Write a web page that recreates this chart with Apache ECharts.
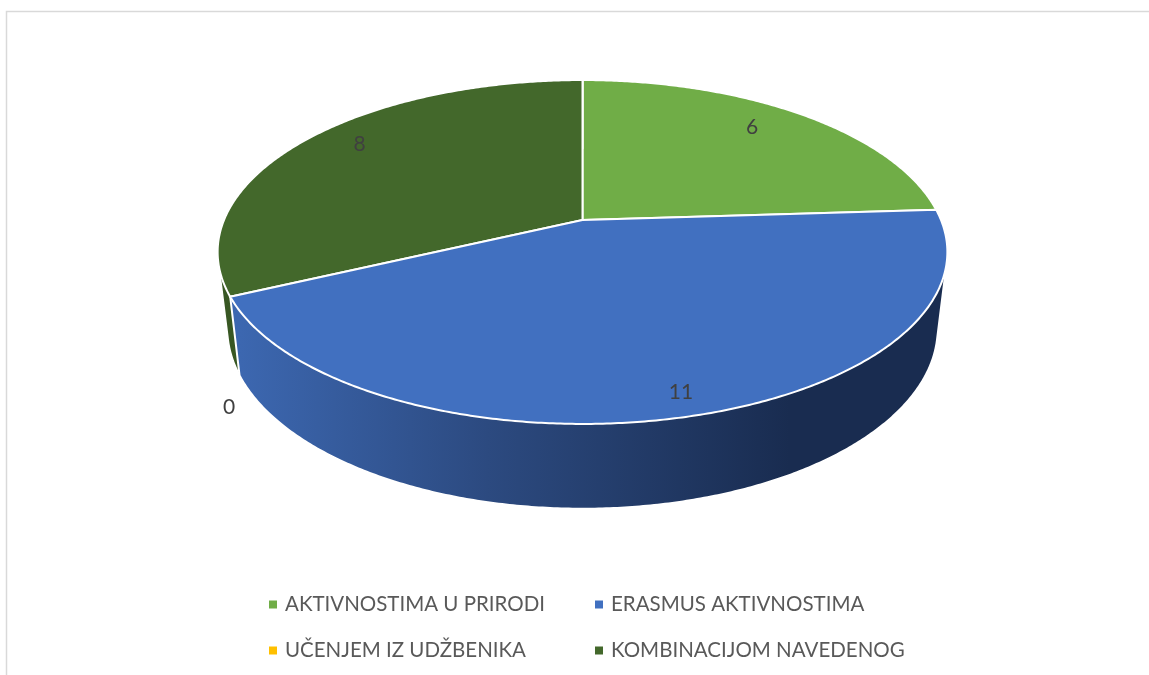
<!DOCTYPE html>
<html>
<head>
<meta charset="utf-8">
<style>
  html, body { margin: 0; padding: 0; background: #fff; }
  #main { width: 1149px; height: 675px; }
</style>
<script src="https://cdn.jsdelivr.net/npm/echarts@6/dist/echarts.min.js"></script>
</head>
<body>
<div id="main"></div>
<script>
var categories = ['AKTIVNOSTIMA U PRIRODI', 'ERASMUS AKTIVNOSTIMA', 'UČENJEM IZ UDŽBENIKA', 'KOMBINACIJOM NAVEDENOG'];
var values = [6, 11, 0, 8];
var topColors = ['#70ad47', '#4170c0', '#ffc000', '#43682b'];

// perspective of the disc: top face and the (slightly smaller) bottom face
var cx = 582.5, k = -0.186;
var topFace = {cy: 220, a: 358.5, b: 166};
var bottomFace = {cy: 295, a: 349, b: 174};
// label place, relative to the 85% radius point of the slice middle
var labelShift = [[-14, -2], [6, 6], [-54, 122], [11, -7]];

var total = values.reduce(function (s, v) { return s + v; }, 0);

function project(face, deg, r) {
  var t = deg * Math.PI / 180;
  var u = Math.sin(t) * r, v = -Math.cos(t) * r;
  var d = 1 + k * v;
  return [cx + face.a * u / d, face.cy + face.b * v / d];
}

function arc(face, from, to) {
  var pts = [];
  var n = Math.max(2, Math.ceil((to - from) * 2));
  for (var i = 0; i <= n; i++) {
    pts.push(project(face, from + (to - from) * i / n, 1));
  }
  return pts;
}

// outline of the wall: hull of both rims, the part under the top face is covered anyway
function hull(pts) {
  pts = pts.slice().sort(function (p, q) { return p[0] - q[0] || p[1] - q[1]; });
  function half(list) {
    var h = [];
    list.forEach(function (p) {
      while (h.length > 1) {
        var a = h[h.length - 2], b = h[h.length - 1];
        if ((b[0] - a[0]) * (p[1] - a[1]) - (b[1] - a[1]) * (p[0] - a[0]) <= 0) h.pop();
        else break;
      }
      h.push(p);
    });
    h.pop();
    return h;
  }
  return half(pts).concat(half(pts.slice().reverse()));
}

function wallFill(i) {
  if (i === 3) return '#385723';
  if (i === 1) {
    return new echarts.graphic.LinearGradient(240, 0, 790, 0, [
      {offset: 0, color: '#3c67b0'},
      {offset: 0.45, color: '#2c4a80'},
      {offset: 1, color: '#192c50'}
    ], true);
  }
  return topColors[i];
}

function slice(i) {
  return function (params, api) {
    var value = api.value(0);
    var before = 0;
    for (var j = 0; j < i; j++) before += values[j];
    var from = before / total * 360;
    var to = (before + value) / total * 360;
    var children = [];
    if (value > 0) {
      children.push({
        type: 'polygon',
        shape: {points: hull(arc(topFace, from, to).concat(arc(bottomFace, from, to)))},
        style: {fill: wallFill(i), stroke: '#fff', lineWidth: 2}
      });
      children.push({
        type: 'polygon',
        shape: {points: [[cx, topFace.cy]].concat(arc(topFace, from, to))},
        style: {fill: topColors[i], stroke: '#fff', lineWidth: 2}
      });
    }
    var mid = project(topFace, (from + to) / 2, 1);
    children.push({
      type: 'text',
      x: cx + (mid[0] - cx) * 0.85 + labelShift[i][0],
      y: topFace.cy + (mid[1] - topFace.cy) * 0.85 + labelShift[i][1],
      style: {
        text: String(value),
        fill: '#404040',
        font: '21px Lato',
        align: 'center',
        verticalAlign: 'middle'
      }
    });
    return {type: 'group', children: children};
  };
}

var myChart = echarts.init(document.getElementById('main'));

var legendBase = {
  orient: 'vertical',
  top: 589,
  icon: 'rect',
  itemWidth: 8,
  itemHeight: 8,
  itemGap: 25,
  selectedMode: false,
  textStyle: {color: '#595959', fontFamily: 'Lato', fontSize: 20.5, padding: [0, 0, 0, 3]}
};

var option = {
  animation: false,
  backgroundColor: '#fff',
  legend: [
    Object.assign({}, legendBase, {left: 264, data: [categories[0], categories[2]]}),
    Object.assign({}, legendBase, {left: 590, data: [categories[1], categories[3]]})
  ],
  graphic: [
    {
      type: 'polyline',
      silent: true,
      shape: {points: [[6.5, 675], [6.5, 11.5], [1149, 11.5]]},
      style: {fill: null, stroke: '#d9d9d9', lineWidth: 1.5}
    }
  ],
  series: categories.map(function (name, i) {
    return {
      type: 'custom',
      name: name,
      coordinateSystem: 'none',
      silent: true,
      z: i === 1 ? 3 : 2,
      itemStyle: {color: topColors[i]},
      renderItem: slice(i),
      data: [[values[i]]]
    };
  })
};
myChart.setOption(option);
</script>
</body>
</html>
